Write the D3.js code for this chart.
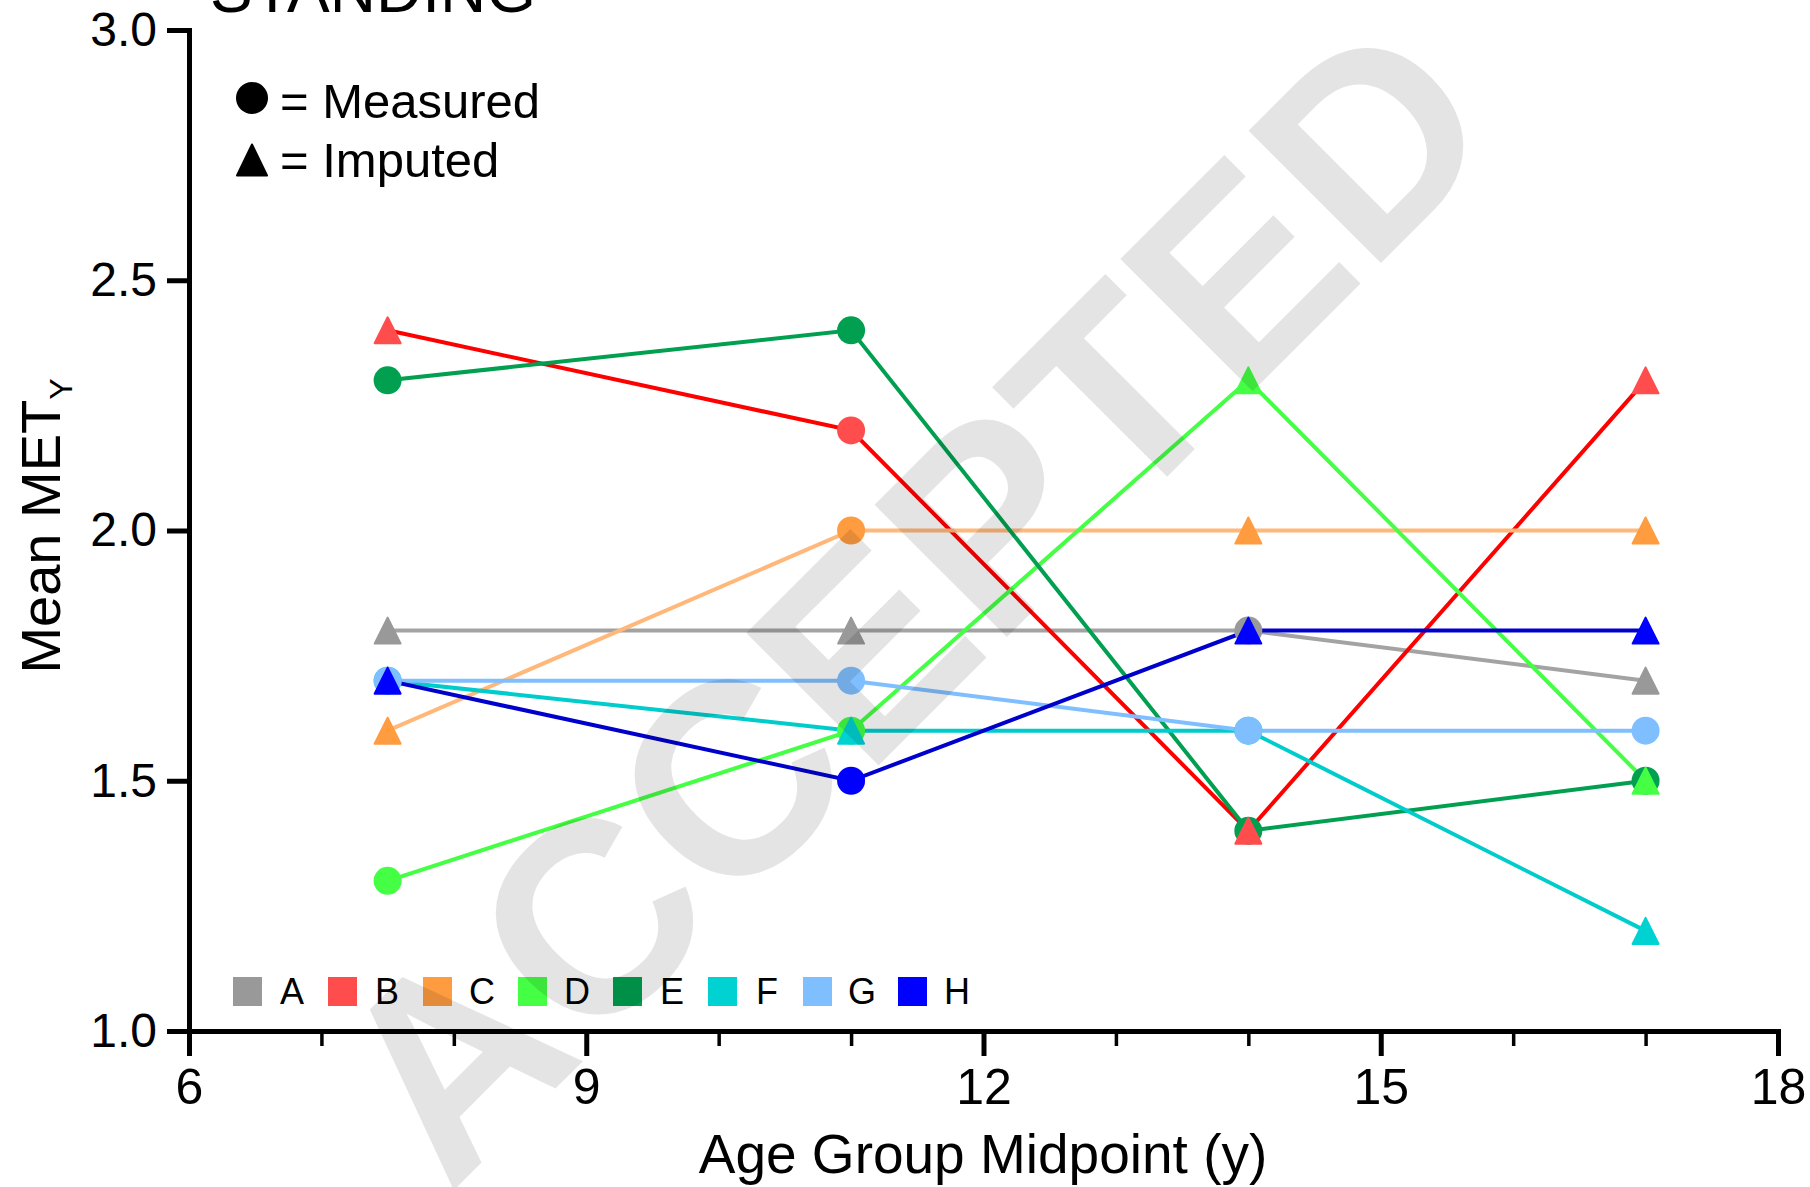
<!DOCTYPE html>
<html>
<head>
<meta charset="utf-8">
<script src="https://cdn.jsdelivr.net/npm/d3@7"></script>
<style>
  body { margin: 0; background: #fff; }
  svg { display: block; }
  text { font-family: "Liberation Sans", Arial, Helvetica, sans-serif; }
</style>
</head>
<body>
<svg id="chart" width="1810" height="1187"></svg>
<script>
// Age group midpoints (years)
const ages = [7.5, 11, 14, 17];

// Group labels
const groups = ["A", "B", "C", "D", "E", "F", "G", "H"];

// Mean MET per group at each age midpoint
const valuesA = [1.8, 1.8, 1.8, 1.7];
const valuesB = [2.4, 2.2, 1.4, 2.3];
const valuesC = [1.6, 2.0, 2.0, 2.0];
const valuesD = [1.3, 1.6, 2.3, 1.5];
const valuesE = [2.3, 2.4, 1.4, 1.5];
const valuesF = [1.7, 1.6, 1.6, 1.2];
const valuesG = [1.7, 1.7, 1.6, 1.6];
const valuesH = [1.7, 1.5, 1.8, 1.8];

// Point type: "M" = measured (circle), "I" = imputed (triangle)
const typesA = ["I", "I", "M", "I"];
const typesB = ["I", "M", "I", "I"];
const typesC = ["I", "M", "I", "I"];
const typesD = ["M", "M", "I", "I"];
const typesE = ["M", "M", "M", "M"];
const typesF = ["M", "I", "M", "I"];
const typesG = ["M", "M", "M", "M"];
const typesH = ["I", "M", "I", "I"];

// Axis ticks
const xMajorTicks = [6, 9, 12, 15, 18];
const xMinorTicks = [7, 8, 10, 11, 13, 14, 16, 17];
const yTicks = [1.0, 1.5, 2.0, 2.5, 3.0];

// Colours
const markerColors = ["#999999", "#ff4d4d", "#ff9c40", "#44ff44", "#00a050", "#00d2d2", "#80bfff", "#0000ff"];
const lineColors   = ["#a3a3a3", "#ff0000", "#ffb87a", "#44ff44", "#00a050", "#00cccc", "#80bfff", "#0000cc"];

const allValues = [valuesA, valuesB, valuesC, valuesD, valuesE, valuesF, valuesG, valuesH];
const allTypes  = [typesA, typesB, typesC, typesD, typesE, typesF, typesG, typesH];

const series = groups.map((g, i) => ({
  name: g,
  marker: markerColors[i],
  line: lineColors[i],
  points: ages.map((a, j) => ({ age: a, value: allValues[i][j], type: allTypes[i][j] }))
}));

const svg = d3.select("#chart");
svg.append("rect").attr("width", 1810).attr("height", 1187).attr("fill", "#fff");

const x = d3.scaleLinear().domain([6, 18]).range([189, 1778]);
const y = d3.scaleLinear().domain([1, 3]).range([1031, 30]);

// Triangle marker path centred on the point
function triPath(w, h) {
  return `M0,${-h / 2}L${w / 2},${h / 2}L${-w / 2},${h / 2}Z`;
}

// Lines
const lineGen = d3.line().x(d => x(d.age)).y(d => y(d.value));
svg.append("g").selectAll("path")
  .data(series)
  .join("path")
  .attr("d", d => lineGen(d.points))
  .attr("fill", "none")
  .attr("stroke", d => d.line)
  .attr("stroke-width", 4);

// Measured points (circles)
const circleData = series.flatMap(s => s.points.filter(p => p.type === "M").map(p => ({ ...p, color: s.marker })));
svg.append("g").selectAll("circle")
  .data(circleData)
  .join("circle")
  .attr("cx", d => x(d.age))
  .attr("cy", d => y(d.value))
  .attr("r", 14)
  .attr("fill", d => d.color);

// Imputed points (triangles)
const triData = series.flatMap(s => s.points.filter(p => p.type === "I").map(p => ({ ...p, color: s.marker })));
svg.append("g").selectAll("path")
  .data(triData)
  .join("path")
  .attr("transform", d => `translate(${x(d.age)},${y(d.value)})`)
  .attr("d", triPath(26, 26))
  .attr("fill", d => d.color)
  .attr("stroke", d => d.color)
  .attr("stroke-width", 2)
  .attr("stroke-linejoin", "round");

// X axis: major ticks with labels, minor ticks without
const xAxisG = svg.append("g").attr("transform", "translate(0,1031)");
xAxisG.call(d3.axisBottom(x).tickValues(xMajorTicks).tickSize(25).tickSizeOuter(0).tickPadding(12).tickFormat(d3.format("d")));
xAxisG.select(".domain").attr("stroke", "#000").attr("stroke-width", 5).attr("stroke-linecap", "square");
xAxisG.selectAll(".tick line").attr("stroke", "#000").attr("stroke-width", 5);
xAxisG.selectAll(".tick text").attr("font-size", 50).attr("fill", "#000")
  .attr("font-family", "'Liberation Sans', Arial, sans-serif");

const xMinorG = svg.append("g").attr("transform", "translate(0,1031)");
xMinorG.call(d3.axisBottom(x).tickValues(xMinorTicks).tickSize(15).tickSizeOuter(0).tickFormat(""));
xMinorG.select(".domain").remove();
xMinorG.selectAll(".tick line").attr("stroke", "#000").attr("stroke-width", 3.5);

// Y axis
const yAxisG = svg.append("g").attr("transform", "translate(189,0)");
yAxisG.call(d3.axisLeft(y).tickValues(yTicks).tickSize(22).tickSizeOuter(0).tickPadding(10).tickFormat(d3.format(".1f")));
yAxisG.select(".domain").attr("stroke", "#000").attr("stroke-width", 5).attr("stroke-linecap", "square");
yAxisG.selectAll(".tick line").attr("stroke", "#000").attr("stroke-width", 5);
yAxisG.selectAll(".tick text").attr("font-size", 48).attr("fill", "#000")
  .attr("font-family", "'Liberation Sans', Arial, sans-serif");

// Axis titles
svg.append("text")
  .attr("x", 983).attr("y", 1173)
  .attr("text-anchor", "middle")
  .attr("font-size", 55)
  .attr("fill", "#000")
  .text("Age Group Midpoint (y)");

const yTitle = svg.append("text")
  .attr("transform", "translate(60,526) rotate(-90)")
  .attr("text-anchor", "middle")
  .attr("font-size", 56)
  .attr("fill", "#000");
yTitle.append("tspan").text("Mean MET");
yTitle.append("tspan").attr("font-size", 32).attr("dy", 12).text("Y");

// Panel title (partly above the frame)
svg.append("text")
  .attr("x", 210).attr("y", 12)
  .attr("font-size", 64)
  .attr("fill", "#000")
  .text("STANDING");

// Symbol key
svg.append("circle").attr("cx", 252).attr("cy", 98).attr("r", 16).attr("fill", "#000");
svg.append("path").attr("transform", "translate(252,160)").attr("d", triPath(30, 31))
  .attr("fill", "#000").attr("stroke", "#000").attr("stroke-width", 2).attr("stroke-linejoin", "round");
svg.append("text").attr("x", 280).attr("y", 118).attr("font-size", 49).attr("fill", "#000").text("= Measured");
svg.append("text").attr("x", 280).attr("y", 177).attr("font-size", 49).attr("fill", "#000").text("= Imputed");

// Group colour key
const key = svg.append("g").selectAll("g")
  .data(series)
  .join("g")
  .attr("transform", (d, i) => `translate(${233 + i * 95},977)`);
key.append("rect").attr("width", 29).attr("height", 29).attr("fill", d => d.marker);
key.append("text")
  .attr("x", 59).attr("y", 27)
  .attr("text-anchor", "middle")
  .attr("font-size", 36)
  .attr("font-family", "'DejaVu Sans Mono', monospace")
  .attr("fill", "#000")
  .text(d => d.name);

// Watermark stamp over the panel
svg.append("text")
  .attr("transform", "translate(978,666) rotate(-45)")
  .attr("text-anchor", "middle")
  .attr("font-size", 272)
  .attr("font-weight", "bold")
  .attr("fill", "#000")
  .attr("fill-opacity", 0.105)
  .text("ACCEPTED");
</script>
</body>
</html>
